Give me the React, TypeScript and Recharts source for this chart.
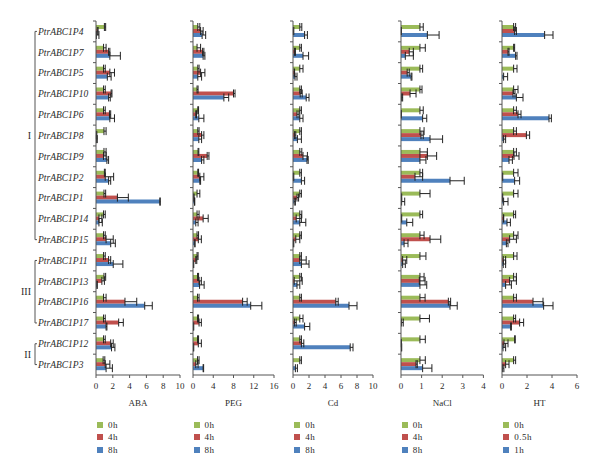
import { BarChart, Bar, XAxis, YAxis, ErrorBar } from "recharts";

const genes = [
  "PtrABC1P4", "PtrABC1P7", "PtrABC1P5", "PtrABC1P10", "PtrABC1P6", "PtrABC1P8",
  "PtrABC1P9", "PtrABC1P2", "PtrABC1P1", "PtrABC1P14", "PtrABC1P15", "PtrABC1P11",
  "PtrABC1P13", "PtrABC1P16", "PtrABC1P17", "PtrABC1P12", "PtrABC1P3",
];

// subfamily brackets (first gene index, last gene index)
const groupNames = ["I", "III", "II"];
const groupFrom = [0, 11, 15];
const groupTo = [10, 14, 16];

// ABA
const aba0h = [1.0, 0.9, 0.9, 0.9, 0.9, 0.95, 0.95, 1.0, 0.95, 0.9, 0.9, 0.9, 0.95, 0.9, 0.9, 0.9, 0.85];
const aba0hErr = [0.15, 0.3, 0.2, 0.2, 0.2, 0.25, 0.25, 0.1, 0.2, 0.2, 0.2, 0.2, 0.2, 0.3, 0.2, 0.2, 0.2];
const aba4h = [0.15, 1.5, 1.65, 1.8, 1.6, 0.05, 0.9, 1.1, 2.55, 0.35, 1.2, 1.5, 0.7, 3.45, 2.7, 1.75, 1.1];
const aba4hErr = [0.1, 0.15, 0.55, 0.1, 0.15, 0.05, 0.3, 1.0, 1.3, 0.35, 0.85, 0.25, 0.3, 1.4, 0.55, 0.3, 0.55];
const aba8h = [0.05, 1.65, 1.35, 1.5, 1.65, 0.05, 1.3, 1.5, 7.6, 0.35, 1.75, 2.05, 0.1, 5.8, 1.2, 1.85, 1.2];
const aba8hErr = [0.3, 1.25, 0.45, 0.2, 0.55, 0.1, 0.2, 0.25, 0.05, 0.4, 0.55, 1.15, 0.05, 0.9, 0.1, 0.4, 0.75];

// PEG
const peg0h = [0.95, 0.8, 0.95, 0.8, 0.95, 0.95, 1.0, 0.95, 0.8, 0.8, 0.8, 0.8, 0.9, 0.9, 0.9, 0.9, 0.9];
const peg0hErr = [0.4, 0.7, 0.25, 0.2, 0.15, 0.25, 0.15, 0.15, 0.55, 0.4, 0.3, 0.2, 0.2, 0.3, 0.2, 0.2, 0.3];
const peg4h = [1.5, 1.9, 1.5, 8.0, 0.55, 1.7, 2.8, 1.35, 0.15, 2.0, 1.05, 0.55, 1.2, 9.8, 1.2, 1.05, 0.55];
const peg4hErr = [0.5, 0.25, 0.85, 0.3, 0.15, 0.45, 0.35, 0.8, 0.05, 1.0, 0.6, 0.2, 0.45, 0.9, 0.45, 0.6, 0.45];
const peg8h = [1.8, 2.0, 0.95, 6.1, 1.15, 1.15, 1.7, 1.35, 0.3, 0.55, 0.35, 0.1, 1.3, 11.4, 0.1, 0.1, 2.0];
const peg8hErr = [0.7, 0.35, 0.75, 0.95, 1.0, 0.55, 0.45, 0.15, 0.05, 0.45, 0.05, 0.05, 0.9, 2.2, 0.05, 0.05, 0.1];

// Cd
const cd0h = [0.85, 0.85, 0.85, 0.85, 0.85, 0.85, 0.85, 0.85, 0.85, 0.85, 0.85, 0.85, 0.85, 0.85, 0.85, 0.85, 0.85];
const cd0hErr = [0.25, 0.2, 0.4, 0.2, 0.2, 0.2, 0.25, 0.2, 0.2, 0.25, 0.2, 0.2, 0.2, 0.2, 0.4, 0.2, 0.2];
const cd4h = [0.05, 0.2, 0.15, 0.9, 0.5, 0.2, 1.25, 0.05, 0.5, 0.4, 0.35, 0.85, 0.15, 5.35, 0.2, 1.05, 0.0];
const cd4hErr = [0.05, 0.1, 0.05, 0.25, 0.25, 0.15, 0.55, 0.05, 0.2, 0.65, 0.5, 0.8, 1.0, 0.3, 0.2, 0.3, 0.0];
const cd8h = [1.45, 1.25, 0.25, 1.65, 0.85, 0.55, 1.75, 1.05, 0.15, 0.85, 0.05, 1.05, 0.5, 7.0, 1.45, 7.15, 0.3];
const cd8hErr = [0.35, 0.7, 0.25, 0.35, 0.4, 0.5, 0.15, 0.4, 0.15, 0.75, 0.05, 0.95, 0.35, 1.0, 0.65, 0.35, 0.25];

// NaCl
const nacl0h = [0.92, 0.92, 0.92, 0.92, 0.92, 0.92, 0.92, 0.92, 0.92, 0.92, 0.92, 0.92, 0.92, 0.92, 0.92, 0.92, 0.92];
const nacl0hErr = [0.16, 0.26, 0.13, 0.1, 0.16, 0.2, 0.36, 0.13, 0.49, 0.13, 0.2, 0.29, 0.2, 0.25, 0.46, 0.26, 0.26];
const nacl4h = [0.02, 0.4, 0.3, 0.44, 0.02, 0.97, 1.28, 0.68, 0.03, 0.03, 1.41, 0.08, 0.89, 2.3, 0.03, 0.02, 0.73];
const nacl4hErr = [0.0, 0.2, 0.1, 0.29, 0.0, 0.11, 0.45, 0.37, 0.0, 0.0, 0.52, 0.2, 0.28, 0.11, 0.08, 0.0, 0.06];
const nacl8h = [1.28, 0.21, 0.49, 0.03, 1.05, 1.41, 0.92, 2.38, 0.03, 0.28, 0.15, 0.08, 0.92, 2.38, 0.0, 0.03, 1.05];
const nacl8hErr = [0.57, 0.39, 0.04, 0.05, 0.2, 0.61, 0.29, 0.69, 0.15, 0.29, 0.19, 0.13, 0.33, 0.35, 0.0, 0.0, 0.45];

// HT
const ht0h = [0.93, 0.93, 0.93, 0.93, 0.93, 0.93, 0.93, 0.93, 0.93, 0.93, 0.93, 0.93, 0.93, 0.93, 0.93, 1.01, 0.93];
const ht0hErr = [0.16, 0.08, 0.27, 0.35, 0.22, 0.22, 0.22, 0.35, 0.35, 0.16, 0.35, 0.27, 0.22, 0.22, 0.16, 0.05, 0.16];
const ht05h = [1.01, 0.48, 0.0, 0.88, 1.28, 1.95, 0.96, 0.05, 0.05, 0.13, 0.61, 0.1, 0.61, 2.48, 1.41, 0.16, 0.29];
const ht05hErr = [0.14, 0.08, 0.0, 0.16, 0.24, 0.26, 0.4, 0.0, 0.0, 0.0, 0.54, 0.19, 0.54, 0.8, 0.32, 0.32, 0.27];
const ht1h = [3.41, 1.09, 0.13, 1.15, 3.76, 0.13, 0.56, 1.01, 0.13, 0.4, 0.35, 0.1, 0.29, 3.33, 0.69, 0.08, 0.05];
const ht1hErr = [0.67, 0.11, 0.32, 0.53, 0.19, 0.16, 0.27, 0.4, 0.35, 0.27, 0.13, 0.19, 0.46, 0.75, 0.06, 0.21, 0.1];

const stdTimes = ["0h", "4h", "8h"];
const htTimes = ["0h", "0.5h", "1h"];

const colors = ["#9BBB59", "#C0504D", "#4F81BD"];
const FONT = "'Liberation Serif', 'Times New Roman', serif";
const TEXT = "#2b2b2b";
const AXIS = "#555";

const H = 476;
const TOP = 21;
const BOTTOM = 375;
const XAXIS_H = 30;
const BAND = (BOTTOM - TOP) / genes.length;

function rows(v0: number[], e0: number[], v1: number[], e1: number[], v2: number[], e2: number[]) {
  return genes.map((gene, i) => ({
    gene,
    s0: v0[i], s0Err: [0, e0[i]],
    s1: v1[i], s1Err: [0, e1[i]],
    s2: v2[i], s2Err: [0, e2[i]],
  }));
}

const panels = [
  { title: "ABA", x0: 96, w: 84, max: 10, ticks: [0, 2, 4, 6, 8, 10], names: stdTimes, data: rows(aba0h, aba0hErr, aba4h, aba4hErr, aba8h, aba8hErr) },
  { title: "PEG", x0: 192.5, w: 81, max: 16, ticks: [0, 4, 8, 12, 16], names: stdTimes, data: rows(peg0h, peg0hErr, peg4h, peg4hErr, peg8h, peg8hErr) },
  { title: "Cd", x0: 293.3, w: 80, max: 10, ticks: [0, 2, 4, 6, 8, 10], names: stdTimes, data: rows(cd0h, cd0hErr, cd4h, cd4hErr, cd8h, cd8hErr) },
  { title: "NaCl", x0: 400.8, w: 82.4, max: 4, ticks: [0, 1, 2, 3, 4], names: stdTimes, data: rows(nacl0h, nacl0hErr, nacl4h, nacl4hErr, nacl8h, nacl8hErr) },
  { title: "HT", x0: 502.3, w: 75, max: 6, ticks: [0, 2, 4, 6], names: htTimes, data: rows(ht0h, ht0hErr, ht05h, ht05hErr, ht1h, ht1hErr) },
];

const makeTick = (axisX: number, showNames: boolean) => (props: any) => {
  const { y, payload } = props;
  const yb = y - BAND / 2;
  return (
    <g>
      <line x1={axisX - 3} x2={axisX} y1={yb} y2={yb} stroke={AXIS} />
      {showNames && (
        <text x={38} y={y} dy="0.35em" fontFamily={FONT} fontStyle="italic" fontSize={9.5} fill={TEXT}>
          {payload.value}
        </text>
      )}
    </g>
  );
};

function Panel({ p, first }: { p: (typeof panels)[number]; first: boolean }) {
  const axisW = first ? p.x0 : 10;
  const right = 10;
  return (
    <div style={{ position: "absolute", left: p.x0 - axisW, top: 0 }}>
      <BarChart
        width={axisW + p.w + right}
        height={H}
        data={p.data}
        layout="vertical"
        margin={{ top: TOP, right, bottom: H - BOTTOM - XAXIS_H, left: 0 }}
        barCategoryGap={4}
        barGap={0}
      >
        <XAxis
          type="number"
          domain={[0, p.max]}
          ticks={p.ticks}
          height={XAXIS_H}
          tickSize={3}
          tickMargin={5}
          stroke={AXIS}
          tick={{ fontSize: 9, fill: TEXT, fontFamily: FONT }}
          label={{ value: p.title, position: "insideBottom", offset: -1, fontSize: 9, fill: TEXT, fontFamily: FONT }}
        />
        <YAxis
          type="category"
          dataKey="gene"
          width={axisW}
          interval={0}
          tickLine={false}
          stroke={AXIS}
          tick={makeTick(axisW, first)}
        />
        {p.names.map((n, k) => (
          <Bar key={n} dataKey={`s${k}`} name={n} fill={colors[k]} isAnimationActive={false}>
            <ErrorBar dataKey={`s${k}Err`} direction="x" width={4} stroke="#222" strokeWidth={1} />
          </Bar>
        ))}
      </BarChart>
    </div>
  );
}

function Brackets() {
  const mid = (i: number) => TOP + (i + 0.5) * BAND;
  return (
    <svg width={600} height={H} style={{ position: "absolute", left: 0, top: 0 }}>
      {groupNames.map((g, k) => {
        const y1 = mid(groupFrom[k]);
        const y2 = mid(groupTo[k]);
        return (
          <g key={g}>
            <path d={`M37,${y1} H35 V${y2} H37`} fill="none" stroke={AXIS} />
            <text x={31} y={(y1 + y2) / 2} dy="0.35em" textAnchor="end" fontFamily={FONT} fontSize={10} fill={TEXT}>
              {g}
            </text>
          </g>
        );
      })}
    </svg>
  );
}

export default function App() {
  return (
    <div style={{ position: "absolute", left: 0, top: 0, width: 600, height: H, background: "#fff", overflow: "hidden" }}>
      <Brackets />
      {panels.map((p, i) => (
        <Panel key={p.title} p={p} first={i === 0} />
      ))}
      {panels.map((p) => (
        <div key={p.title + "-lg"} style={{ position: "absolute", left: p.x0 + 1, top: 419, fontFamily: FONT, fontSize: 9, color: TEXT }}>
          {p.names.map((n, k) => (
            <div key={n} style={{ display: "flex", alignItems: "center", height: 12.3 }}>
              <span style={{ width: 6, height: 6, background: colors[k], display: "inline-block", marginRight: 5 }} />
              <span style={{ letterSpacing: 0.5 }}>{n}</span>
            </div>
          ))}
        </div>
      ))}
    </div>
  );
}
